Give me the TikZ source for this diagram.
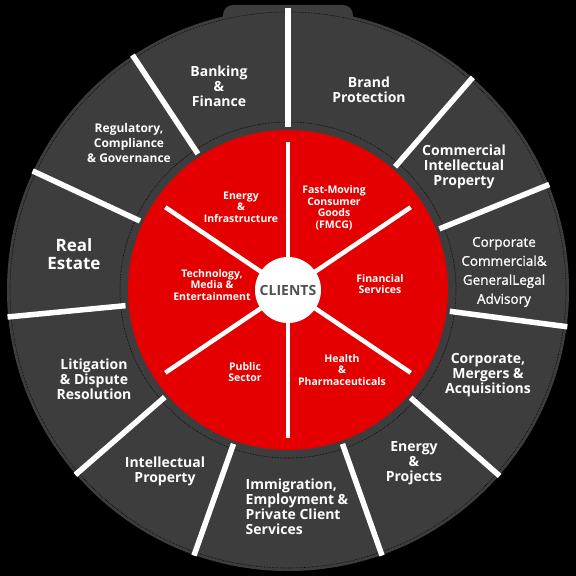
\documentclass[tikz,border=0pt]{standalone}
\usepackage{fontspec}
\setmainfont{Open Sans}
\newfontfamily\semifont[FakeBold=0.9]{Open Sans}
\usetikzlibrary{positioning}
\definecolor{ringgray}{RGB}{61,61,61}
\definecolor{clientred}{RGB}{228,0,0}
\definecolor{clientgray}{RGB}{80,80,80}

\begin{document}
\begin{tikzpicture}[
  x=1pt, y=1pt,
  practice/.style={text=white, align=center, font=\bfseries\fontsize{14}{15}\selectfont},
  smallpractice/.style={practice, font=\bfseries\fontsize{12}{15}\selectfont},
  bigpractice/.style={practice, font=\bfseries\fontsize{17}{18}\selectfont},
  lightpractice/.style={practice, font=\semifont\fontsize{13.5}{19}\selectfont},
  sector/.style={text=white, align=center, font=\bfseries\fontsize{10.5}{11.5}\selectfont},
  outersep/.style={white, line width=5.5pt, line cap=rect},
  innersep/.style={white, line width=4.5pt}]
\useasboundingbox[fill=black] (-288,-286) rectangle (288,290);
% grey ring with the small tab on top
\fill[ringgray, rounded corners=10pt] (-65,262) rectangle (65,285);
\fill[ringgray] (0,0) circle (281);
\draw[black, densely dotted, line width=0.6pt] (0,0) circle (278);
\draw[black, densely dotted, line width=0.6pt] (0,0) circle (168);
% red disc of client sectors
\fill[clientred] (0,0) circle (160);
\foreach \a in {90,123.5,155,185.5,221,250.5,289.5,318.7,352.5,22,49}
  \draw[outersep] (\a:166) -- (\a:279);
\foreach \a in {34,90,146,214,270,326}
  \draw[innersep] (\a:30) -- (\a:148);
\node[circle, fill=white, minimum size=66pt, text=clientgray,
  font=\bfseries\fontsize{14}{15}\selectfont] (clients) at (0,0) {CLIENTS};
% practice areas
\node[practice] (banking) at (-69,204) {Banking\\\&\\Finance};
\node[practice] (brand) at (81,200) {Brand\\Protection};
\node[practice] (commip) at (176,123) {Commercial\\Intellectual\\Property};
\node[lightpractice] (corpcomm) at (216,18) {Corporate\\Commercial\&\\GeneralLegal\\Advisory};
\node[practice] (corpma) at (200,-85) {Corporate,\\Mergers \&\\Acquisitions};
\node[practice] (energyproj) at (126,-173) {Energy\\\&\\Projects};
\node[practice, align=left] (immigration) at (9,-217) {Immigration,\\Employment \&\\Private Client\\Services};
\node[practice] (ip) at (-123,-181) {Intellectual\\Property};
\node[practice] (litigation) at (-194,-89) {Litigation\\\& Dispute\\Resolution};
\node[bigpractice] (realestate) at (-214,36) {Real\\Estate};
\node[smallpractice] (regulatory) at (-159,147) {Regulatory,\\Compliance\\\& Governance};
% client sectors
\node[sector] (energyinfra) at (-47,83) {Energy\\\&\\Infrastructure};
\node[sector] (fmcg) at (46,82) {Fast-Moving\\Consumer\\Goods\\(FMCG)};
\node[sector] (financial) at (92,6) {Financial\\Services};
\node[sector] (health) at (54,-80) {Health\\\&\\Pharmaceuticals};
\node[sector] (public) at (-43,-82) {Public\\Sector};
\node[sector] (tech) at (-76,5) {Technology,\\Media \&\\Entertainment};
\end{tikzpicture}
\end{document}
